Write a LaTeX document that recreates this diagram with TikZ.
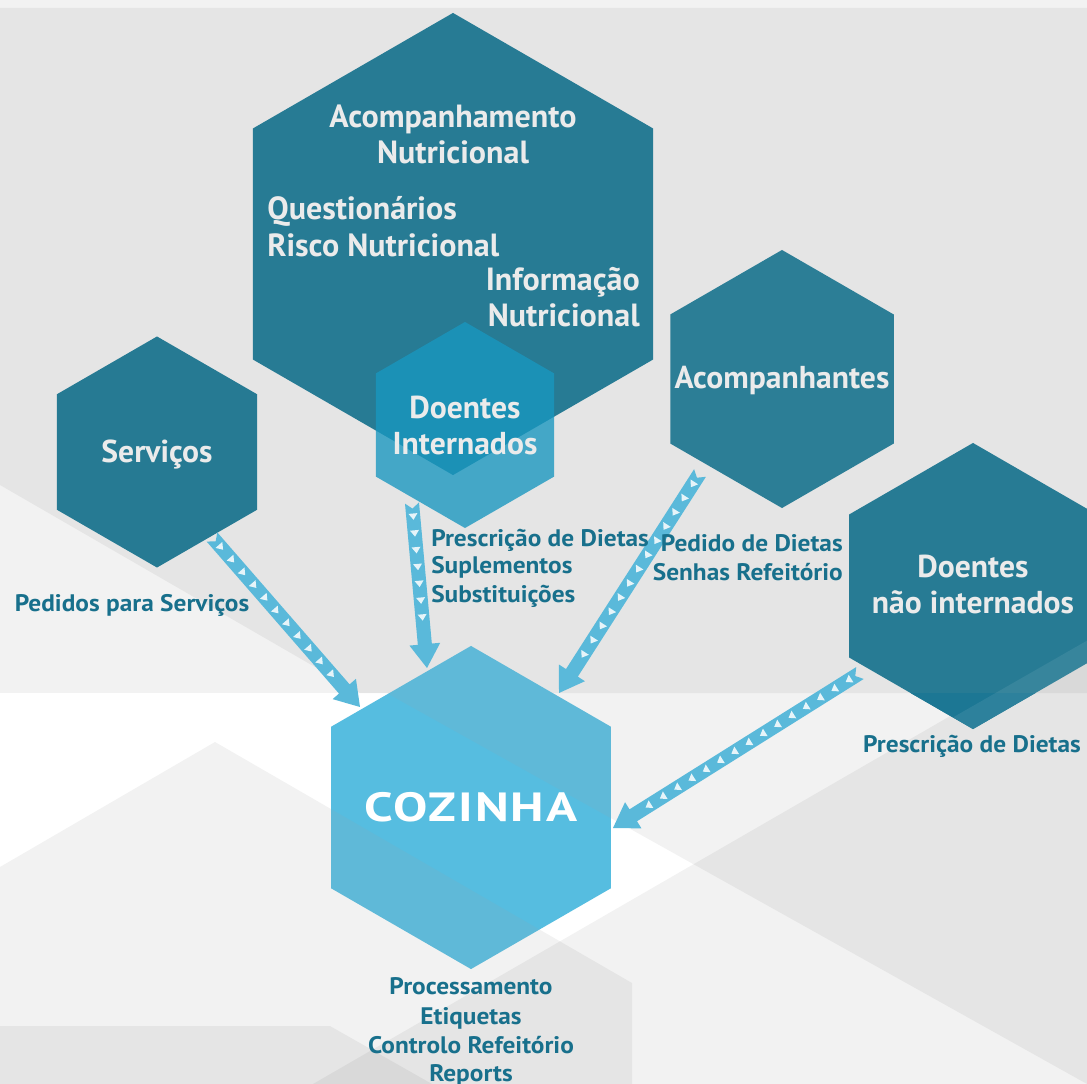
\documentclass[tikz,border=0pt]{standalone}
\usepackage{fontspec}
\setmainfont{PT Sans}
\usetikzlibrary{shapes.geometric,decorations.markings}
\definecolor{tealA}{HTML}{277B94}
\definecolor{tealS}{HTML}{267A93}
\definecolor{tealC}{HTML}{2C7E96}
\definecolor{dniDark}{HTML}{1C7794}
\definecolor{diblue}{RGB}{25,151,192}
\definecolor{cozblue}{HTML}{56BDE0}
\definecolor{arrowblue}{HTML}{5AB9DA}
\definecolor{hexwhite}{HTML}{EBEBEB}
\definecolor{lbltxt}{HTML}{18708C}
\begin{document}
\begin{tikzpicture}[x=0.025cm,y=-0.025cm,
  hexa/.style={regular polygon,regular polygon sides=6,shape border rotate=30,inner sep=0pt,outer sep=0pt,draw=none},
  layer/.style={fill=black,fill opacity=0.05},
  cozshade/.style={fill=black!37,fill opacity=0.12},
  hextxt/.style={text=hexwhite,font=\bfseries\fontsize{22.5}{26}\selectfont,anchor=base,inner sep=0pt},
  bigtxt/.style={hextxt,font=\bfseries\fontsize{22.8}{26}\selectfont},
  coztxt/.style={text=white,font=\bfseries\fontsize{29}{32}\selectfont\addfontfeature{LetterSpace=4},anchor=base,inner sep=0pt},
  lbl/.style={text=lbltxt,font=\bfseries\fontsize{17}{20}\selectfont\addfontfeature{FakeStretch=1.06},anchor=base,inner sep=0pt},
  stripe/.style={decorate,decoration={markings,
    mark=at position 0pt with {\fill[arrowblue] (0pt,-5pt) -- ({\pgfdecoratedpathlength-17pt},-5pt) -- ({\pgfdecoratedpathlength-17pt},-11pt) -- ({\pgfdecoratedpathlength+0pt},0pt) -- ({\pgfdecoratedpathlength-17pt},11pt) -- ({\pgfdecoratedpathlength-17pt},5pt) -- (0pt,5pt) -- (4pt,0pt) -- cycle;},
    mark=between positions 10pt and -24pt step 12pt with {\fill[white,fill opacity=0.85] (-2.5pt,-3.2pt) -- (-2.5pt,3.2pt) -- (2pt,0pt) -- cycle;}}}
]
\useasboundingbox (0,0) rectangle (1087,1084);
% background
\fill[white] (0,0) rectangle (1087,1084);
\fill[layer] (0,0) rectangle (1087,693);
\fill[layer] (0,8) -- (1087,8) -- (1087,693) -- (360,693) -- (0,485) -- cycle;
\fill[layer] (0,867) -- (215,742) -- (632,983) -- (632,1084) -- (0,1084) -- cycle;
\fill[layer] (0,1026) -- (330,1026) -- (432,1084) -- (0,1084) -- cycle;
\fill[layer] (387,693) -- (1087,693) -- (1087,1084) -- cycle;
\fill[layer] (1087,637) -- (1087,1084) -- (313,1084) -- cycle;
% COZINHA
\node[hexa,minimum size=8.075cm,fill=cozblue] (coz) at (471,807.5) {};
\begin{scope}
  \clip (coz.corner 1) -- (coz.corner 2) -- (coz.corner 3) -- (coz.corner 4) -- (coz.corner 5) -- (coz.corner 6) -- cycle;
  \fill[cozshade] (220,600) -- (1087,600) -- (1087,1084) -- cycle;
  \fill[cozshade] (0,867) -- (215,742) -- (632,983) -- (632,1084) -- (0,1084) -- cycle;
\end{scope}
% other hexagons
\node[hexa,minimum size=11.55cm,fill=tealA] (acomp) at (453,244) {};
\node[hexa,minimum size=5.775cm,fill=tealS] (serv) at (157,452) {};
\node[hexa,minimum size=6.45cm,fill=tealC] (acte) at (782,379) {};
\node[hexa,minimum size=7.15cm,fill=tealA] (dni) at (973,586) {};
\begin{scope}
  \clip (dni.corner 1) -- (dni.corner 2) -- (dni.corner 3) -- (dni.corner 4) -- (dni.corner 5) -- (dni.corner 6) -- cycle;
  \fill[dniDark] (800,693) rectangle (1130,760);
  \fill[white,fill opacity=0.08] (313,1084) -- (1130,616) -- (1130,1084) -- cycle;
\end{scope}
\node[hexa,minimum size=5.15cm,fill=diblue,fill opacity=0.79] (dint) at (465,425) {};
% arrows
\coordinate (a1s) at ([shift={(55,85)}]serv.center);
\coordinate (a1e) at ([shift={(-111,-100.5)}]coz.center);
\coordinate (a2s) at ([shift={(-53,78)}]dint.center);
\coordinate (a2e) at ([shift={(-44,-139.5)}]coz.center);
\coordinate (a3s) at ([shift={(-82,94)}]acte.center);
\coordinate (a3e) at ([shift={(88,-114.5)}]coz.center);
\coordinate (a4s) at ([shift={(-113,87)}]dni.center);
\coordinate (a4e) at ([shift={(142,20.5)}]coz.center);
\path[stripe] (a1s) -- (a1e);
\path[stripe] (a2s) -- (a2e);
\path[stripe] (a3s) -- (a3e);
\path[stripe] (a4s) -- (a4e);
% hexagon texts
\node[bigtxt] (t1) at (453,128) {Acompanhamento};
\node[bigtxt] (t2) at (453,164) {Nutricional};
\node[bigtxt,anchor=base west] (t3) at (267,220) {Questionários};
\node[bigtxt,anchor=base west] (t4) at (267,256) {Risco Nutricional};
\node[bigtxt,anchor=base east] (t5) at (640,290) {Informação};
\node[bigtxt,anchor=base east] (t6) at (640,326) {Nutricional};
\node[hextxt] (t7) at (465,418) {Doentes};
\node[hextxt] (t8) at (465,454) {Internados};
\node[hextxt] (t9) at (157,462) {Serviços};
\node[hextxt] (t10) at (782,388) {Acompanhantes};
\node[hextxt] (t11) at (973,577) {Doentes};
\node[hextxt] (t12) at (973,613) {não internados};
\node[coztxt] (t13) at (471,821) {\scalebox{1.26}[1]{COZINHA}};
% labels
\node[lbl] (l1) at (132,611) {Pedidos para Serviços};
\node[lbl,anchor=base west] (l2) at (431,546) {Prescrição de Dietas};
\node[lbl,anchor=base west] (l3) at (431,573) {Suplementos};
\node[lbl,anchor=base west] (l4) at (431,602) {Substituições};
\node[lbl,anchor=base east] (l5) at (843,551) {Pedido de Dietas};
\node[lbl,anchor=base east] (l6) at (843,580) {Senhas Refeitório};
\node[lbl] (l7) at (972,752) {Prescrição de Dietas};
\node[lbl] (l8) at (471,994) {Processamento};
\node[lbl] (l9) at (471,1024) {Etiquetas};
\node[lbl] (l10) at (471,1053) {Controlo Refeitório};
\node[lbl] (l11) at (471,1081) {Reports};
\end{tikzpicture}
\end{document}
